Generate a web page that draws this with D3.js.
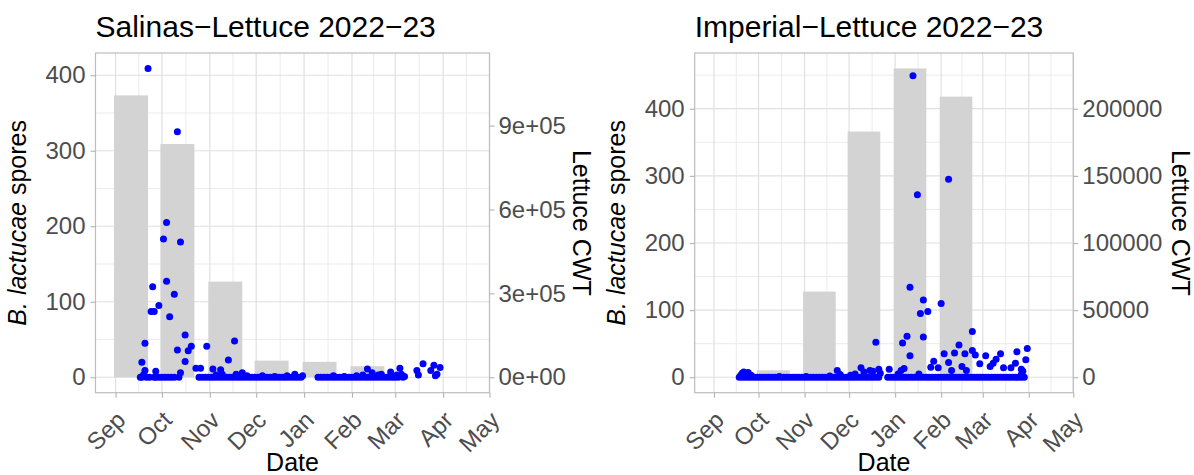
<!DOCTYPE html>
<html>
<head>
<meta charset="utf-8">
<script src="https://cdn.jsdelivr.net/npm/d3@7"></script>
<style>
  body { margin: 0; background: #fff; }
  text { font-family: "Liberation Sans", Arial, sans-serif; }
</style>
</head>
<body>
<div id="chart"></div>
<script>
var w = 1194;
var h = 475;

// x axis: month ticks
var monthLabels = ["Sep", "Oct", "Nov", "Dec", "Jan", "Feb", "Mar", "Apr", "May"];
var monthStarts = ["2022-09-01", "2022-10-01", "2022-11-01", "2022-12-01", "2023-01-01",
                   "2023-02-01", "2023-03-01", "2023-04-01", "2023-05-01"];
var sporeTicks = [0, 100, 200, 300, 400];

// Salinas: monthly lettuce CWT (bars) and spore counts (points, dates as MM-DD)
var salinasBarMonths = ["2022-09", "2022-10", "2022-11", "2022-12", "2023-01", "2023-02"];
var salinasCWT = [1008000, 834000, 342000, 59500, 55000, 39500];
var salinasCwtTicks = [0, 300000, 600000, 900000];
var salinasCwtLabels = ["0e+00", "3e+05", "6e+05", "9e+05"];
var salinasZeroDates = [
  "09-17", "09-18", "09-21", "09-23", "09-26", "09-27", "09-29", "10-01", "10-03", "10-05", "10-07", "10-09", "10-12",
  "10-25", "10-27", "10-29", "10-31", "11-02", "11-04", "11-06", "11-08", "11-10", "11-12", "11-14", "11-16",
  "11-18", "11-20", "11-22", "11-24", "11-26", "11-28", "11-30", "12-02", "12-04", "12-06", "12-08", "12-10",
  "12-12", "12-14", "12-16", "12-18", "12-20", "12-22", "12-24", "12-26", "12-28", "12-30",
  "01-10", "01-12", "01-14", "01-16", "01-18", "01-20", "01-22", "01-24", "01-26", "01-28", "01-30", "02-01",
  "02-03", "02-05", "02-07", "02-09", "02-11", "02-13", "02-15", "02-17", "02-19", "02-21", "02-23", "02-25",
  "02-27", "03-01", "03-03", "03-06"
];
var salinasSpores = [
  ["09-18", 20], ["09-19", 3], ["09-20", 45], ["09-20", 9], ["09-22", 409], ["09-24", 87], ["09-25", 120],
  ["09-26", 87], ["09-27", 8], ["09-29", 95], ["10-02", 183], ["10-04", 205], ["10-04", 127], ["10-06", 80],
  ["10-09", 110], ["10-11", 325], ["10-11", 36], ["10-13", 179], ["10-13", 6], ["10-16", 56], ["10-16", 21],
  ["10-18", 35], ["10-20", 41], ["10-23", 12], ["10-26", 12], ["10-30", 41], ["11-03", 11], ["11-05", 3],
  ["11-08", 10], ["11-09", 4], ["11-13", 23], ["11-17", 48], ["11-18", 4], ["11-22", 6], ["11-25", 2],
  ["12-05", 2], ["12-13", 1], ["12-21", 2], ["12-26", 4], ["12-31", 2],
  ["01-20", 2], ["01-27", 1], ["02-04", 2], ["02-08", 3], ["02-11", 11], ["02-14", 6], ["02-18", 3],
  ["02-20", 4], ["02-26", 7], ["03-02", 3], ["03-04", 12], ["03-05", 4], ["03-07", 1], ["03-15", 9],
  ["03-16", 3], ["03-19", 18], ["03-24", 9], ["03-26", 16], ["03-27", 2], ["03-28", 4], ["03-30", 13]
];

// Imperial
var imperialBarMonths = ["2022-10", "2022-11", "2022-12", "2023-01", "2023-02"];
var imperialCWT = [5200, 63800, 183000, 230000, 209000];
var imperialCwtTicks = [0, 50000, 100000, 150000, 200000];
var imperialCwtLabels = ["0", "50000", "100000", "150000", "200000"];
var imperialZeroDates = [
  "09-18", "09-20", "09-22", "09-24", "09-26", "09-28", "09-30", "10-02", "10-04", "10-06", "10-08", "10-10",
  "10-12", "10-14", "10-16", "10-18", "10-20", "10-22", "10-24", "10-26", "10-28", "10-30", "11-01", "11-03",
  "11-05", "11-07", "11-09", "11-11", "11-13", "11-15", "11-17", "11-19", "11-21", "11-23", "11-25", "11-27",
  "11-29", "12-01", "12-03", "12-05", "12-07", "12-09", "12-11", "12-13", "12-15", "12-17", "12-19", "12-21",
  "12-27", "12-29", "12-31", "01-02", "01-04", "01-06", "01-08", "01-10", "01-12", "01-14", "01-16", "01-18",
  "01-20", "01-22", "01-24", "01-26", "01-28", "01-30", "02-01", "02-03", "02-05", "02-07", "02-09", "02-11",
  "02-13", "02-15", "02-17", "02-19", "02-21", "02-23", "02-25", "02-27", "03-01", "03-03", "03-05", "03-07",
  "03-09", "03-11", "03-13", "03-15", "03-17", "03-19", "03-21", "03-23", "03-25", "03-27", "03-29"
];
var imperialSpores = [
  ["09-19", 3], ["09-20", 6], ["09-21", 8], ["09-23", 5], ["09-24", 7], ["09-26", 3], ["10-15", 1],
  ["11-02", 1], ["11-18", 2], ["11-23", 10], ["11-25", 4], ["12-02", 3], ["12-05", 5], ["12-09", 14],
  ["12-11", 8], ["12-15", 10], ["12-17", 9], ["12-19", 52], ["12-21", 12], ["12-22", 6], ["12-28", 12],
  ["01-03", 5], ["01-05", 10], ["01-06", 51], ["01-07", 13], ["01-09", 61], ["01-11", 134], ["01-11", 32],
  ["01-13", 449], ["01-16", 272], ["01-17", 5], ["01-18", 95], ["01-20", 115], ["01-20", 60], ["01-23", 98],
  ["01-25", 15], ["01-27", 24], ["01-30", 14], ["02-01", 110], ["02-03", 35], ["02-06", 295], ["02-06", 22],
  ["02-08", 10], ["02-10", 36], ["02-13", 48], ["02-15", 16], ["02-17", 35], ["02-18", 10], ["02-22", 68],
  ["02-22", 40], ["02-24", 33], ["02-27", 20], ["03-03", 32], ["03-06", 16], ["03-08", 21], ["03-10", 27],
  ["03-13", 35], ["03-15", 14], ["03-20", 14], ["03-23", 21], ["03-24", 38], ["03-27", 12], ["03-27", 4],
  ["03-28", 9], ["03-30", 26], ["03-31", 43]
];

var parseDay = d3.timeParse("%Y-%m-%d");
// season runs Aug 2022 - Jul 2023
function toDate(md) {
  var m = +md.slice(0, 2);
  return parseDay((m >= 8 ? "2022-" : "2023-") + md);
}
var xStart = parseDay("2022-08-19");
var xEnd = parseDay("2023-05-01");

var svg = d3.select("#chart")
  .append("svg")
  .attr("width", w)
  .attr("height", h);

svg.append("rect").attr("width", w).attr("height", h).attr("fill", "#fff");

function drawPanel(p) {
  var x = d3.scaleTime().domain([xStart, xEnd]).range([p.x0, p.x1]);

  var pts = p.zeros.map(function(d) { return { date: toDate(d), v: 0 }; })
    .concat(p.spores.map(function(d) { return { date: toDate(d[0]), v: d[1] }; }));
  var bars = p.barMonths.map(function(m, i) {
    return { start: parseDay(m + "-01"), cwt: p.cwt[i] };
  });

  // ggplot style 5% expansion
  var maxV = Math.max(d3.max(pts, function(d) { return d.v; }),
                      d3.max(bars, function(d) { return d.cwt / p.k; }));
  var y = d3.scaleLinear().domain([-0.05 * maxV, 1.05 * maxV]).range([p.y1, p.y0]);
  var y2 = d3.scaleLinear().domain(y.domain().map(function(v) { return v * p.k; })).range([p.y1, p.y0]);

  var g = svg.append("g");

  // grid
  var months = monthStarts.map(parseDay);
  var minorX = [];
  for (var i = 0; i < months.length - 1; i++) {
    minorX.push(new Date((months[i].getTime() + months[i + 1].getTime()) / 2));
  }
  var minorY = y.ticks(10).filter(function(v) { return v % 100 !== 0; });

  g.selectAll("line.minx").data(minorX).enter().append("line")
    .attr("x1", function(d) { return x(d); }).attr("x2", function(d) { return x(d); })
    .attr("y1", p.y0).attr("y2", p.y1)
    .attr("stroke", "#ebebeb").attr("stroke-width", 1);
  g.selectAll("line.miny").data(minorY).enter().append("line")
    .attr("x1", p.x0).attr("x2", p.x1)
    .attr("y1", function(d) { return y(d); }).attr("y2", function(d) { return y(d); })
    .attr("stroke", "#ebebeb").attr("stroke-width", 1);
  g.selectAll("line.majx").data(months).enter().append("line")
    .attr("x1", function(d) { return x(d); }).attr("x2", function(d) { return x(d); })
    .attr("y1", p.y0).attr("y2", p.y1)
    .attr("stroke", "#e0e0e0").attr("stroke-width", 1.2);
  g.selectAll("line.majy").data(sporeTicks).enter().append("line")
    .attr("x1", p.x0).attr("x2", p.x1)
    .attr("y1", function(d) { return y(d); }).attr("y2", function(d) { return y(d); })
    .attr("stroke", "#e0e0e0").attr("stroke-width", 1.2);

  // bars: centred ~10 days into the month, 22 days wide
  g.selectAll("rect.bar").data(bars).enter().append("rect")
    .attr("x", function(d) { return x(d3.timeDay.offset(d.start, -1)); })
    .attr("width", function(d) { return x(d3.timeDay.offset(d.start, 21)) - x(d3.timeDay.offset(d.start, -1)); })
    .attr("y", function(d) { return y2(d.cwt); })
    .attr("height", function(d) { return y2(0) - y2(d.cwt); })
    .attr("fill", "#d3d3d3");

  // points
  g.selectAll("circle").data(pts).enter().append("circle")
    .attr("cx", function(d) { return x(d.date); })
    .attr("cy", function(d) { return y(d.v); })
    .attr("r", 3.5)
    .attr("fill", "#0000ff");

  // border
  g.append("rect")
    .attr("x", p.x0).attr("y", p.y0)
    .attr("width", p.x1 - p.x0).attr("height", p.y1 - p.y0)
    .attr("fill", "none").attr("stroke", "#bdbdbd").attr("stroke-width", 1.2);

  // axes
  var left = g.append("g").attr("transform", "translate(" + p.x0 + ",0)")
    .call(d3.axisLeft(y).tickValues(sporeTicks).tickSize(5).tickPadding(5));
  var right = g.append("g").attr("transform", "translate(" + p.x1 + ",0)")
    .call(d3.axisRight(y2).tickValues(p.cwtTicks).tickSize(5).tickPadding(4)
      .tickFormat(function(d, i) { return p.cwtLabels[i]; }));
  var bottom = g.append("g").attr("transform", "translate(0," + p.y1 + ")")
    .call(d3.axisBottom(x).tickValues(months).tickSize(5)
      .tickFormat(function(d, i) { return monthLabels[i]; }));

  [left, right, bottom].forEach(function(a) {
    a.select(".domain").remove();
    a.selectAll(".tick line").attr("stroke", "#b3b3b3").attr("stroke-width", 1.1);
    a.selectAll(".tick text").attr("fill", "#4d4d4d").style("font-size", "24px")
      .style("font-family", "'Liberation Sans', Arial, sans-serif");
  });
  bottom.selectAll(".tick text")
    .attr("x", 0).attr("y", 0).attr("dy", "0.35em")
    .attr("text-anchor", "end")
    .attr("transform", "translate(5,23) rotate(-45)");

  // titles
  g.append("text").attr("x", p.x0).attr("y", 37)
    .style("font-size", "30px").attr("fill", "#000").text(p.title);

  g.append("text")
    .attr("transform", "translate(" + ((p.x0 + p.x1) / 2) + ",471)")
    .attr("text-anchor", "middle").style("font-size", "25px").attr("fill", "#000")
    .text("Date");

  var yt = g.append("text")
    .attr("transform", "translate(" + (p.x0 - 69.5) + "," + ((p.y0 + p.y1) / 2) + ") rotate(-90)")
    .attr("text-anchor", "middle").style("font-size", "25px").attr("fill", "#000");
  yt.append("tspan").style("font-style", "italic").text("B. lactucae");
  yt.append("tspan").text(" spores");

  g.append("text")
    .attr("transform", "translate(" + p.rightTitleX + "," + ((p.y0 + p.y1) / 2) + ") rotate(90)")
    .attr("text-anchor", "middle").style("font-size", "25px").attr("fill", "#000")
    .text("Lettuce CWT");
}

drawPanel({
  title: "Salinas\u2212Lettuce 2022\u221223",
  x0: 95.5, x1: 489.5, y0: 53, y1: 392.7,
  k: 2700,
  zeros: salinasZeroDates, spores: salinasSpores,
  barMonths: salinasBarMonths, cwt: salinasCWT,
  cwtTicks: salinasCwtTicks, cwtLabels: salinasCwtLabels,
  rightTitleX: 573
});

drawPanel({
  title: "Imperial\u2212Lettuce 2022\u221223",
  x0: 694.7, x1: 1073.3, y0: 53, y1: 392.7,
  k: 500,
  zeros: imperialZeroDates, spores: imperialSpores,
  barMonths: imperialBarMonths, cwt: imperialCWT,
  cwtTicks: imperialCwtTicks, cwtLabels: imperialCwtLabels,
  rightTitleX: 1172
});
</script>
</body>
</html>
